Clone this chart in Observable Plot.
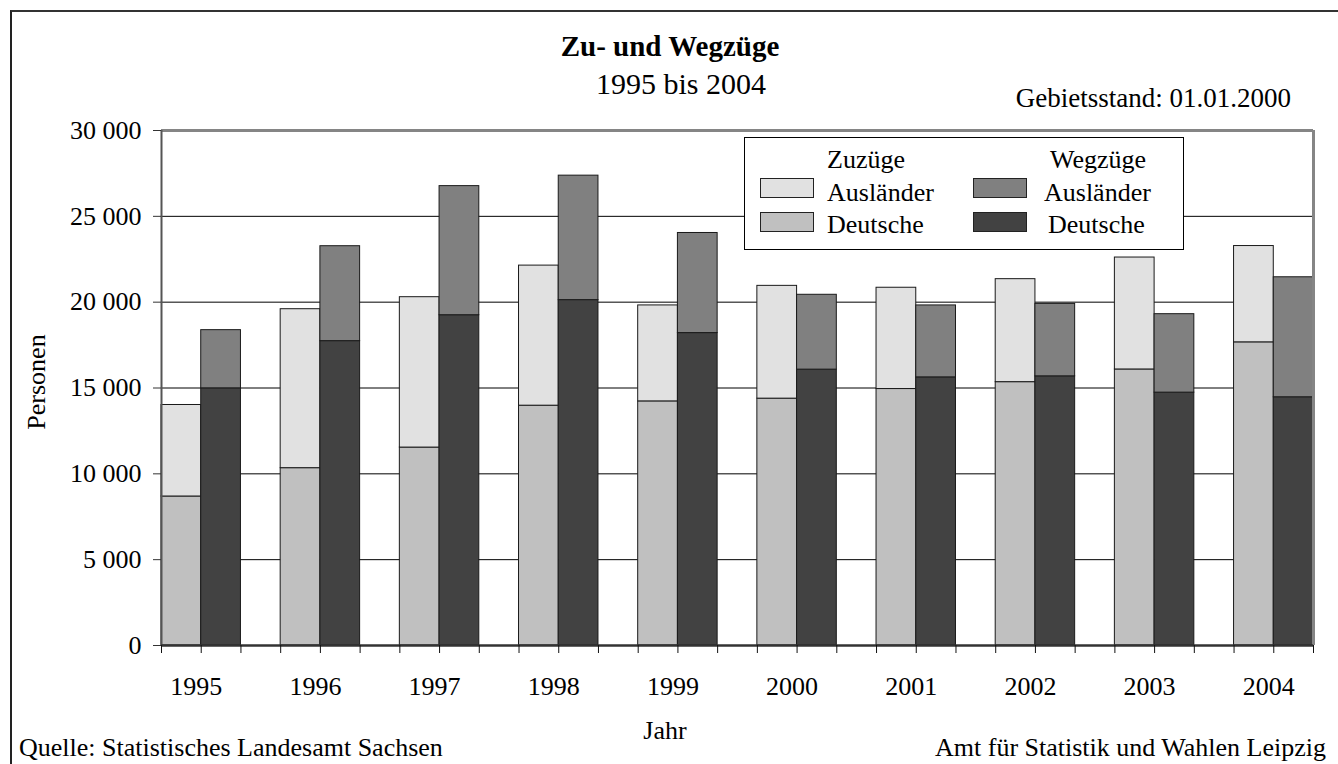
<!DOCTYPE html>
<html>
<head>
<meta charset="utf-8">
<script src="https://cdn.jsdelivr.net/npm/d3@7"></script>
<script src="https://cdn.jsdelivr.net/npm/@observablehq/plot@0.6"></script>
<style>
  html, body { margin: 0; padding: 0; background: #fff; overflow: hidden; }
  #wrap { position: relative; width: 1338px; height: 764px; font-family: "Liberation Serif", "Times New Roman", serif; color: #000; }
  #frame { position: absolute; left: 10px; top: 10px; width: 1400px; height: 800px; border-left: 2px solid #222; border-top: 2px solid #333; }
  .t { position: absolute; white-space: nowrap; line-height: 1; }
  #legend { position: absolute; left: 744px; top: 137px; width: 438px; height: 111px; border: 1px solid #000; background: #fff; }
  .sw { position: absolute; width: 52px; height: 18px; border: 1px solid #222; }
  .lt { position: absolute; font-size: 26px; line-height: 1; white-space: nowrap; }
  #chart { position: absolute; left: 0; top: 0; }
</style>
</head>
<body>
<div id="wrap">
  <div id="chart"></div>
  <div id="frame"></div>
  <div class="t" id="title" style="left:0; width:1340px; text-align:center; top:32px; font-size:29px; font-weight:bold;">Zu- und Wegzüge</div>
  <div class="t" id="subtitle" style="left:0; width:1362px; text-align:center; top:69px; font-size:30px;">1995 bis 2004</div>
  <div class="t" style="right:47px; top:85px; font-size:27px;">Gebietsstand: 01.01.2000</div>
  <div class="t" style="left:37px; top:382px; font-size:26px; transform: translate(-50%,-50%) rotate(-90deg);">Personen</div>
  <div class="t" style="left:0; width:1330px; text-align:center; top:718px; font-size:26px;">Jahr</div>
  <div class="t" style="left:19px; top:735px; font-size:26px;">Quelle: Statistisches Landesamt Sachsen</div>
  <div class="t" style="right:12px; top:735px; font-size:26px;">Amt für Statistik und Wahlen Leipzig</div>
  <div id="legend"></div>
</div>
<script>
// ---- data ----
const years = [1995, 1996, 1997, 1998, 1999, 2000, 2001, 2002, 2003, 2004];
const zuDeutsche    = [8680, 10330, 11530, 13970, 14220, 14380, 14940, 15340, 16080, 17660];
const zuAuslaender  = [5330,  9260,  8760,  8160,  5590,  6570,  5900,  6000,  6520,  5610];
const wegDeutsche   = [14980, 17730, 19240, 20120, 18200, 16070, 15620, 15680, 14730, 14460];
const wegAuslaender = [3390,  5530,  7520,  7250,  5830,  4360,  4190,  4220,  4570,  6990];
const yTicks = [0, 5000, 10000, 15000, 20000, 25000, 30000];
const colors = {
  "Zuzüge|Ausländer": "#e1e1e1",
  "Zuzüge|Deutsche": "#c0c0c0",
  "Wegzüge|Ausländer": "#808080",
  "Wegzüge|Deutsche": "#424242"
};

// ---- table for the library ----
const rows = [];
years.forEach((year, i) => {
  const series = [
    ["Zuzüge", zuDeutsche[i], zuAuslaender[i]],
    ["Wegzüge", wegDeutsche[i], wegAuslaender[i]]
  ];
  series.forEach(([flow, de, aus], f) => {
    const slot = i * 3 + f;
    rows.push({year, flow, group: "Deutsche", slot, y1: 0, y2: de});
    rows.push({year, flow, group: "Ausländer", slot, y1: de, y2: de + aus});
  });
});
const slotCount = years.length * 3 - 1;
const slotTicks = d3.range(0, slotCount + 1);
const yearCenters = years.map((y, i) => i * 3 + 1);
const fmt = d => d3.format(",")(d).replace(/,/g, " ");

const chart = Plot.plot({
  width: 1338,
  height: 764,
  marginTop: 130,
  marginBottom: 119,
  marginLeft: 161,
  marginRight: 25,
  style: {fontFamily: "Liberation Serif, Times New Roman, serif", fontSize: "26px", color: "#000", background: "transparent"},
  x: {domain: [0, slotCount], axis: null},
  y: {domain: [0, 30000], axis: null},
  marks: [
    Plot.ruleY(yTicks.filter(d => d > 0 && d < 30000), {stroke: "#000", strokeWidth: 1}),
    Plot.rect(rows, {
      x1: d => d.slot,
      x2: d => d.slot + 1,
      y1: "y1",
      y2: "y2",
      fill: d => colors[d.flow + "|" + d.group],
      stroke: "#1a1a1a",
      strokeWidth: 1
    }),
    Plot.ruleY([30000], {stroke: "#858585", strokeWidth: 3}),
    Plot.ruleX([slotCount], {stroke: "#858585", strokeWidth: 3}),
    Plot.ruleX([0], {stroke: "#555", strokeWidth: 2}),
    Plot.ruleY([0], {stroke: "#333", strokeWidth: 2.5}),
    Plot.axisY(yTicks, {anchor: "left", tickSize: 8, tickPadding: 12, tickFormat: fmt, stroke: "#333", fill: "#000"}),
    Plot.axisX(slotTicks, {anchor: "bottom", tickSize: 8, tickFormat: () => "", stroke: "#111"}),
    Plot.axisX(yearCenters, {anchor: "bottom", tickSize: 0, tickPadding: 31, dx: -5, tickFormat: v => String(years[(v - 1) / 3]), fill: "#000"})
  ]
});
document.getElementById("chart").appendChild(chart);

// ---- legend ----
const legend = document.getElementById("legend");
const legendCols = [
  {flow: "Zuzüge", sx: 15, tx: 82, hx: 82},
  {flow: "Wegzüge", sx: 228, tx: 299, hx: 305}
];
legendCols.forEach(col => {
  const h = document.createElement("div");
  h.className = "lt"; h.textContent = col.flow;
  h.style.left = col.hx + "px"; h.style.top = "9px";
  legend.appendChild(h);
  ["Ausländer", "Deutsche"].forEach((g, k) => {
    const s = document.createElement("div");
    s.className = "sw";
    s.style.left = col.sx + "px";
    s.style.top = (40 + k * 34) + "px";
    s.style.background = colors[col.flow + "|" + g];
    legend.appendChild(s);
    const t = document.createElement("div");
    t.className = "lt"; t.textContent = g;
    t.style.left = (col.tx + (g === "Deutsche" && col.flow === "Wegzüge" ? 4 : 0)) + "px";
    t.style.top = (42 + k * 32) + "px";
    legend.appendChild(t);
  });
});
</script>
</body>
</html>
